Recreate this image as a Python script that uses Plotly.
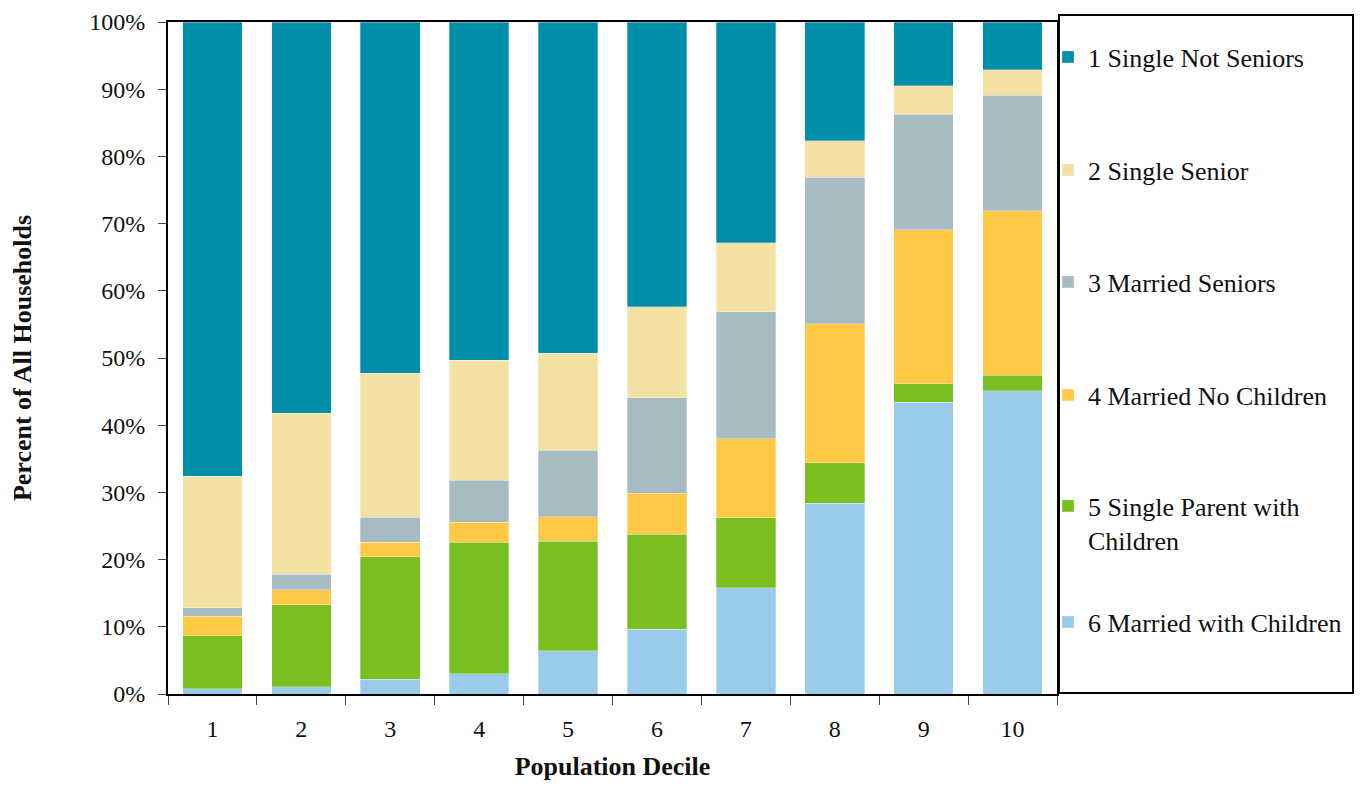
import plotly.graph_objects as go

deciles = ["1", "2", "3", "4", "5", "6", "7", "8", "9", "10"]

married_with_children = [0.8, 1.1, 2.2, 3.05, 6.45, 9.6, 15.8, 28.4, 43.4, 45.15]
single_parent = [7.9, 12.2, 18.2, 19.55, 16.3, 14.2, 10.4, 6.0, 2.8, 2.25]
married_no_children = [2.9, 2.2, 2.2, 2.95, 3.65, 6.1, 11.75, 20.7, 22.9, 24.5]
married_seniors = [1.25, 2.3, 3.7, 6.25, 9.9, 14.2, 18.95, 21.8, 17.2, 17.2]
single_senior = [19.55, 24.0, 21.45, 17.9, 14.4, 13.55, 10.25, 5.4, 4.2, 3.8]
single_not_seniors = [67.6, 58.2, 52.25, 50.3, 49.3, 42.35, 32.85, 17.7, 9.5, 7.1]

y_ticks = [0, 10, 20, 30, 40, 50, 60, 70, 80, 90, 100]

series = [
    ("6 Married with Children", married_with_children, "#9ACBEA", "legend6"),
    ("5 Single Parent with<br>Children", single_parent, "#7ABF20", "legend5"),
    ("4 Married No Children", married_no_children, "#FFC845", "legend4"),
    ("3 Married Seniors", married_seniors, "#A7BCC2", "legend3"),
    ("2 Single Senior", single_senior, "#F4E1A4", "legend2"),
    ("1 Single Not Seniors", single_not_seniors, "#008FAB", "legend"),
]

FONT = "Liberation Serif, Times New Roman, serif"

fig = go.Figure()
for name, vals, color, leg in series:
    fig.add_trace(go.Bar(
        x=deciles, y=vals, name=name, legend=leg,
        marker=dict(color=color, line=dict(color="rgba(255,255,255,0.5)", width=0.6)),
    ))

# page body has an 8px margin; figure sized to fit inside the window
OFF = 8
W, H = 1364 - 2 * OFF, 789 - 2 * OFF
PL, PR, PT, PB = 168, 1057, 22, 694  # target plot area in screen px
L, T = PL - OFF, PT - OFF
R = W - (PR - OFF)
B = H - (PB - OFF)
pw = PR - PL
ph = PB - PT

def px_to_paper_x(sx):
    return (sx - PL) / pw

def px_to_paper_y(sy):
    return (PB - sy) / ph

legend_centers = {"legend": 57, "legend2": 170, "legend3": 282, "legend4": 395,
                  "legend5": 523, "legend6": 622}
leg_x = px_to_paper_x(1048)
legend_layouts = {}
for key, cy in legend_centers.items():
    legend_layouts[key] = dict(
        x=leg_x, xanchor="left", y=px_to_paper_y(cy), yanchor="middle",
        bgcolor="rgba(0,0,0,0)", borderwidth=0,
        font=dict(family=FONT, size=26, color="#111"),
        valign="top",
    )

fig.update_layout(
    width=W, height=H,
    margin=dict(l=L, r=R, t=T, b=B, pad=0, autoexpand=False),
    barmode="stack",
    bargap=0.33,
    plot_bgcolor="white",
    paper_bgcolor="white",
    font=dict(family=FONT, size=24, color="#111"),
    showlegend=True,
    **legend_layouts,
    shapes=[dict(
        type="rect", xref="paper", yref="paper",
        x0=px_to_paper_x(1059), x1=px_to_paper_x(1353),
        y0=px_to_paper_y(693), y1=px_to_paper_y(15),
        line=dict(color="black", width=2), fillcolor="rgba(0,0,0,0)", layer="above",
    )],
)

fig.update_xaxes(
    type="category",
    automargin=False,
    showline=True, linecolor="black", linewidth=2, mirror=True,
    ticks="outside", ticklen=9, tickwidth=1, tickcolor="#444",
    tickson="boundaries",
    showgrid=False,
    tickfont=dict(family=FONT, size=24, color="#111"),
    ticklabelstandoff=12,
    title=dict(text="<b>Population Decile</b>", font=dict(family=FONT, size=26, color="#111"), standoff=27),
)
fig.update_yaxes(
    range=[0, 100],
    automargin=False,
    tickvals=y_ticks,
    ticktext=[f"{v}%" for v in y_ticks],
    ticklabeloverflow="allow",
    showline=True, linecolor="black", linewidth=2, mirror=True,
    ticks="outside", ticklen=8, tickwidth=1, tickcolor="#444",
    showgrid=False, zeroline=False,
    tickfont=dict(family=FONT, size=24, color="#111"),
    ticklabelstandoff=8,
    title=dict(text="<b>Percent of All Households</b>", font=dict(family=FONT, size=26, color="#111"), standoff=61),
)

fig.write_html("out.html")
